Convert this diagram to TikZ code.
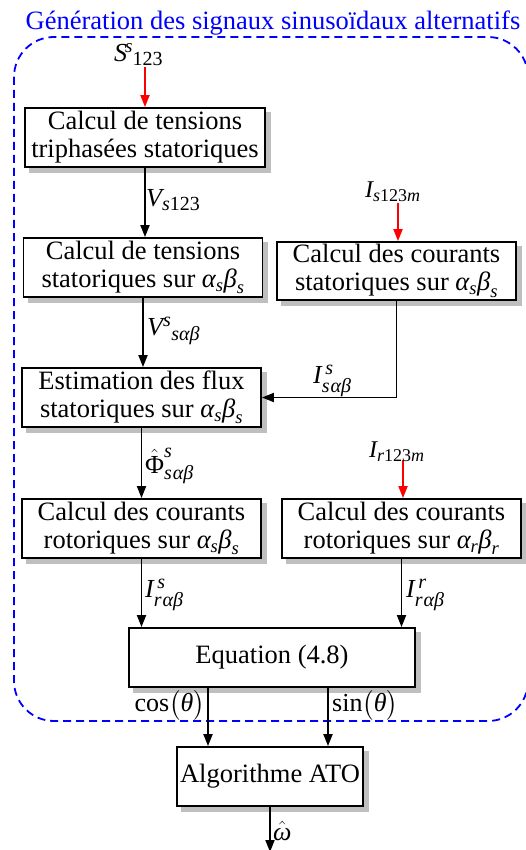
\documentclass[tikz,border=0pt]{standalone}
\usepackage{amsmath}
\usepackage{fontspec}
\setmainfont{Liberation Serif}
\usetikzlibrary{arrows.meta,backgrounds}
\DeclareMathSizes{26}{26}{20}{15}
\DeclareMathSizes{24}{24}{18}{14}
\newcommand\albe[2]{$\textit{α}_{\textit{#1}}\textit{β}_{\textit{#2}}$}
\begin{document}
\begin{tikzpicture}[x=1pt,y=-1pt,
  box/.style={draw=black, line width=1.8pt, fill=white, minimum height=59pt, inner sep=0pt,
    align=center, font=\fontsize{26.5}{28}\selectfont},
  shadowbox/.style={fill=black!25},
  arr/.style={line width=1.8pt, -{Triangle[length=12pt,width=9pt]}},
  rarr/.style={arr, red},
  lbl/.style={font=\fontsize{26}{28}\selectfont, inner sep=0pt},
  slbl/.style={font=\fontsize{24}{26}\selectfont, inner sep=0pt}]
\useasboundingbox (0,0) rectangle (525,850);
\node[text=blue, font=\fontsize{26.5}{28}\selectfont, inner sep=0pt] (title) at (273,23) {Génération des signaux sinusoïdaux alternatifs};
\draw[blue, dash pattern=on 8pt off 5pt, line width=1.8pt, rounded corners=40pt] (14,37) rectangle (528,721);

\node[box, minimum width=240pt] (b1) at (145,137.5) {Calcul de tensions\\triphasées statoriques};
\node[box, minimum width=239pt] (b2) at (143,267.5) {Calcul de tensions\\statoriques sur \albe{s}{s}};
\node[box, minimum width=239pt, minimum height=58pt] (b3) at (396.5,271) {Calcul des courants\\statoriques sur \albe{s}{s}};
\node[box, minimum width=239pt] (b4) at (141.5,397.5) {Estimation des flux\\statoriques sur \albe{s}{s}};
\node[box, minimum width=239pt] (b5) at (141.5,528.5) {Calcul des courants\\rotoriques sur \albe{s}{s}};
\node[box, minimum width=239pt] (b6) at (401.5,528.5) {Calcul des courants\\rotoriques sur \albe{r}{r}};
\node[box, minimum width=286pt] (eq) at (272,657.5) {Equation (4.8)};
\node[box, minimum width=186pt] (ato) at (270,776.5) {Algorithme ATO};

\begin{pgfonlayer}{background}
\foreach \n in {b1,b2,b3,b4,b5,b6,eq,ato}{
  \fill[shadowbox] ([shift={(5pt,-5pt)}]\n.south west) rectangle ([shift={(5pt,-5pt)}]\n.north east);
}
\end{pgfonlayer}

\draw[arr] (b1.south) -- (b1.south |- b2.north);
\draw[arr] (b2.south) -- (b2.south |- b4.north);
\draw[arr] (b4.south) -- (b4.south |- b5.north);
\draw[arr] (b3.south) -- (b3.south |- b4.east) -- (b4.east);
\draw[arr] (b5.south) -- (b5.south |- eq.north);
\draw[arr] (b6.south) -- (b6.south |- eq.north);
\coordinate (cA) at ([xshift=-62pt]ato.north);
\coordinate (cB) at ([xshift=58pt]ato.north);
\draw[arr] (cA |- eq.south) -- (cA);
\draw[arr] (cB |- eq.south) -- (cB);
\coordinate (wEnd) at (270,852);
\draw[arr] (ato.south) -- (wEnd);

\coordinate (sTop) at (145,67);
\draw[rarr] (sTop) -- (sTop |- b1.north);
\coordinate (iTop) at (398,203);
\draw[rarr] (iTop) -- (iTop |- b3.north);
\coordinate (rTop) at (403,460);
\draw[rarr] (rTop) -- (rTop |- b6.north);

\node[lbl, anchor=west] (lS) at (114,55) {\textit{S}\kern-2pt\raisebox{9pt}{\fontsize{19}{19}\selectfont\textit{s}}\raisebox{-4pt}{\fontsize{20}{20}\selectfont 123}};
\node[lbl, anchor=west] (lV) at (146,200) {$\textit{V}_{\textit{s}\textup{123}}$};
\node[slbl, anchor=west] (lIs) at (365,192) {$\textit{I}_{\textit{s}\textup{123}\textit{m}}$};
\node[lbl, anchor=west] (lVs) at (147,331) {$\textit{V}^{\textit{s}}{}_{\textit{sαβ}}$};
\node[lbl, anchor=west] (lIss) at (313,381) {$\textit{I}^{\,\textit{s}}_{\textit{s}\kern1pt\textit{αβ}}$};
\node[lbl, anchor=west] (lPhi) at (145,466) {$\hat{\textup{Φ}}^{\textit{s}}_{\textit{s}\kern1pt\textit{αβ}}$};
\node[slbl, anchor=west] (lIr) at (369,452) {$\textit{I}_{\textit{r}\textup{123}\textit{m}}$};
\node[lbl, anchor=west] (lIrs) at (145,595) {$\textit{I}^{\,\textit{s}}_{\textit{r}\kern1pt\textit{αβ}}$};
\node[lbl, anchor=west] (lIrr) at (406,595) {$\textit{I}^{\,\textit{r}}_{\textit{r}\kern1pt\textit{αβ}}$};
\node[lbl, anchor=east] (lcos) at (205,705) {$\textup{cos}\bigl(\textit{θ}\bigr)$};
\node[lbl, anchor=west] (lsin) at (332,705) {$\textup{sin}\bigl(\textit{θ}\bigr)$};
\node[lbl, anchor=west] (lw) at (273,831) {$\hat{\textit{ω}}$};
\end{tikzpicture}
\end{document}
